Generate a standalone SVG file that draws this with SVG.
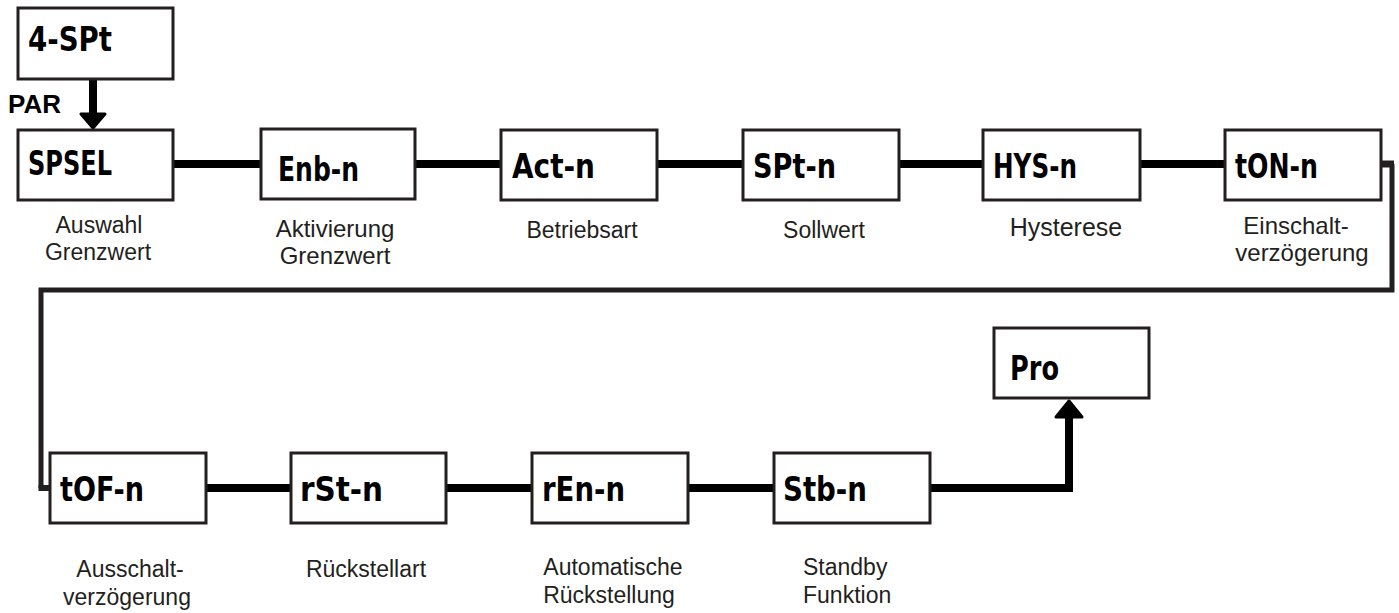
<svg xmlns="http://www.w3.org/2000/svg" width="1399" height="613" viewBox="0 0 1399 613">
<style>
.box{fill:#fff;stroke:#231f20;stroke-width:3}
.disp{font-family:"Liberation Sans Narrow","DejaVu Sans Condensed","Liberation Sans",sans-serif;font-weight:bold;font-size:34px;fill:#000}
.lbl{font-family:"Liberation Sans",Arial,sans-serif;font-size:23px;fill:#231f20;text-anchor:middle}
.lbl2{font-family:"Liberation Sans",Arial,sans-serif;font-size:23px;fill:#231f20}
.con{fill:none;stroke:#000;stroke-width:8}
.ret{fill:none;stroke:#231f20;stroke-width:5}
.head{fill:#000;stroke:#000;stroke-width:3;stroke-linejoin:round}
</style>
<rect width="1399" height="613" fill="#fff"/>
<g id="connectors">
  <line class="con" x1="93" y1="79" x2="93" y2="116"/>
  <polygon class="head" points="81,114 105,114 93,128"/>
  <text x="8" y="113" font-family="Liberation Sans,Arial,sans-serif" font-weight="bold" font-size="26" fill="#000">PAR</text>
  <line class="con" x1="173" y1="164" x2="261" y2="164"/>
  <line class="con" x1="415" y1="164" x2="501" y2="164"/>
  <line class="con" x1="657" y1="164" x2="743" y2="164"/>
  <line class="con" x1="899" y1="164" x2="983" y2="164"/>
  <line class="con" x1="1140" y1="164" x2="1225" y2="164"/>
  <line x1="1381" y1="164" x2="1394" y2="164" stroke="#231f20" stroke-width="7"/>
  <polyline class="ret" points="1392,164 1392,290 41,290 41,488"/>
  <line x1="38.5" y1="488" x2="50" y2="488" stroke="#231f20" stroke-width="6"/>
  <line class="con" x1="206" y1="488" x2="291" y2="488"/>
  <line class="con" x1="446" y1="488" x2="532" y2="488"/>
  <line class="con" x1="688" y1="488" x2="774" y2="488"/>
  <polyline class="con" points="930,488 1069,488 1069,414"/>
  <polygon class="head" points="1056,417 1082,417 1069,401"/>
</g>
<g id="n-4spt">
  <rect class="box" x="18" y="8" width="155" height="71"/>
  <text class="disp" x="28" y="51" textLength="84" lengthAdjust="spacingAndGlyphs">4-SPt</text>
</g>
<g id="n-spsel">
  <rect class="box" x="18" y="130" width="155" height="70"/>
  <text class="disp" x="28" y="175" textLength="84" lengthAdjust="spacingAndGlyphs">SPSEL</text>
  <text class="lbl" x="99" y="233">Auswahl</text>
  <text class="lbl" x="98" y="260">Grenzwert</text>
</g>
<g id="n-enb">
  <rect class="box" x="261" y="129" width="154" height="70"/>
  <text class="disp" x="278" y="181" textLength="81" lengthAdjust="spacingAndGlyphs">Enb-n</text>
  <text class="lbl" x="335" y="237" style="font-size:24px">Aktivierung</text>
  <text class="lbl" x="335" y="264" style="font-size:24px">Grenzwert</text>
</g>
<g id="n-act">
  <rect class="box" x="501" y="130" width="156" height="70"/>
  <text class="disp" x="512" y="178" textLength="83" lengthAdjust="spacingAndGlyphs">Act-n</text>
  <text class="lbl" x="582" y="238">Betriebsart</text>
</g>
<g id="n-spt">
  <rect class="box" x="743" y="130" width="156" height="70"/>
  <text class="disp" x="753" y="178" textLength="83" lengthAdjust="spacingAndGlyphs">SPt-n</text>
  <text class="lbl" x="824" y="238">Sollwert</text>
</g>
<g id="n-hys">
  <rect class="box" x="983" y="130" width="157" height="70"/>
  <text class="disp" x="993" y="178" textLength="84" lengthAdjust="spacingAndGlyphs">HYS-n</text>
  <text class="lbl" x="1066" y="236" style="font-size:25px">Hysterese</text>
</g>
<g id="n-ton">
  <rect class="box" x="1225" y="130" width="156" height="70"/>
  <text class="disp" x="1235" y="178" textLength="83" lengthAdjust="spacingAndGlyphs">tON-n</text>
  <text class="lbl" x="1296" y="234" style="font-size:24px">Einschalt-</text>
  <text class="lbl" x="1302" y="261" style="font-size:24px">verzögerung</text>
</g>
<g id="n-tof">
  <rect class="box" x="50" y="453" width="156" height="70"/>
  <text class="disp" x="60" y="501" textLength="84" lengthAdjust="spacingAndGlyphs">tOF-n</text>
  <text class="lbl" x="130" y="577">Ausschalt-</text>
  <text class="lbl" x="127" y="605">verzögerung</text>
</g>
<g id="n-rst">
  <rect class="box" x="291" y="453" width="155" height="70"/>
  <text class="disp" x="300" y="501" textLength="83" lengthAdjust="spacingAndGlyphs">rSt-n</text>
  <text class="lbl" x="366" y="577">Rückstellart</text>
</g>
<g id="n-ren">
  <rect class="box" x="532" y="453" width="156" height="70"/>
  <text class="disp" x="542" y="501" textLength="83" lengthAdjust="spacingAndGlyphs">rEn-n</text>
  <text class="lbl" x="613" y="575">Automatische</text>
  <text class="lbl" x="609" y="603">Rückstellung</text>
</g>
<g id="n-stb">
  <rect class="box" x="774" y="453" width="156" height="70"/>
  <text class="disp" x="783" y="501" textLength="84" lengthAdjust="spacingAndGlyphs">Stb-n</text>
  <text class="lbl2" x="803" y="575">Standby</text>
  <text class="lbl2" x="803" y="603">Funktion</text>
</g>
<g id="n-pro">
  <rect class="box" x="994" y="328" width="155" height="70"/>
  <text class="disp" x="1010" y="380" textLength="49" lengthAdjust="spacingAndGlyphs">Pro</text>
</g>
</svg>
